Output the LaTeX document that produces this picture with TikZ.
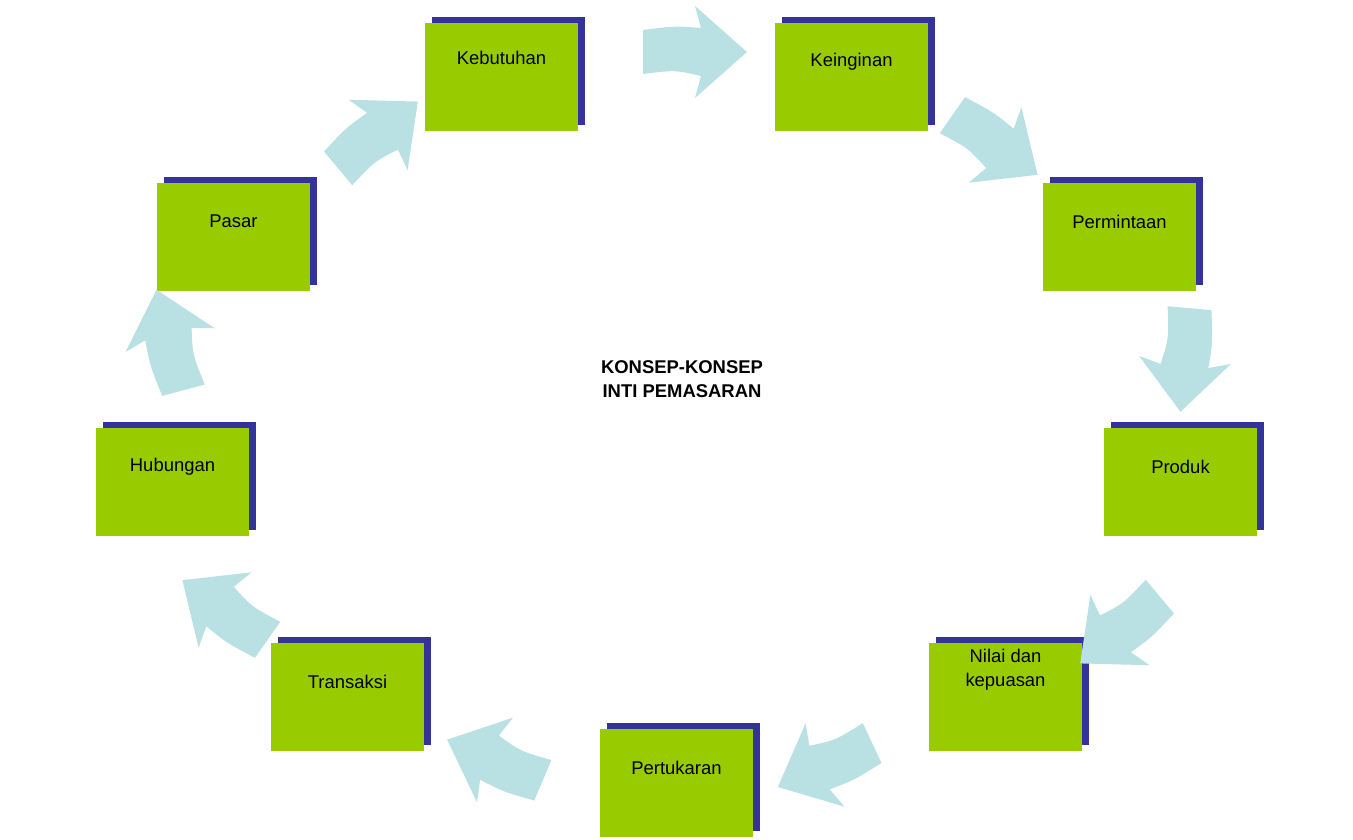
\documentclass[tikz,border=0pt]{standalone}
\usepackage{fontspec}
\setmainfont{Liberation Sans}
\usetikzlibrary{shadows,calc}
\definecolor{gr}{HTML}{99CC00}
\definecolor{nv}{HTML}{333399}
\definecolor{ab}{HTML}{B9E1E3}
\begin{document}
\begin{tikzpicture}[x=0.02cm,y=0.02cm,
 box/.style={fill=gr,minimum width=3.06cm,minimum height=2.16cm,inner sep=0,
   drop shadow={shadow xshift=0.14cm,shadow yshift=0.12cm,fill=nv,opacity=1}},
 lbl/.style={font=\fontsize{10.5}{13.5}\selectfont,align=center},
 ar/.pic={\fill[ab] (-52,-22) .. controls (-20,-18) .. (6,-24) -- (0,-46) -- (52,0) -- (0,46) -- (6,24) .. controls (-20,26) .. (-52,22) -- cycle;}]
\useasboundingbox (0,0) rectangle (1353,839);
\node[box] (keb) at (501.5,762) {};
\node[box] (kei) at (851.5,762) {};
\node[box] (per) at (1119.5,602) {};
\node[box] (pro) at (1180.5,357) {};
\node[box] (nil) at (1005.5,142) {};
\node[box] (tuk) at (676.5,56) {};
\node[box] (tra) at (347.5,142) {};
\node[box] (hub) at (172.5,357) {};
\node[box] (pas) at (233.5,602) {};
\node[lbl] (tkeb) at ($(keb.north)+(0,-35)$) {Kebutuhan};
\node[lbl] (tkei) at ($(kei.north)+(0,-39)$) {Keinginan};
\node[lbl] (tper) at ($(per.north)+(0,-39)$) {Permintaan};
\node[lbl] (tpro) at ($(pro.north)+(0,-39)$) {Produk};
\node[lbl] (tnil) at ($(nil.north)+(0,-27)$) {Nilai dan\\kepuasan};
\node[lbl] (ttuk) at ($(tuk.north)+(0,-39)$) {Pertukaran};
\node[lbl] (ttra) at ($(tra.north)+(0,-39)$) {Transaksi};
\node[lbl] (thub) at ($(hub.north)+(0,-39)$) {Hubungan};
\node[lbl] (tpas) at ($(pas.north)+(0,-39)$) {Pasar};
\node[lbl,font=\bfseries\fontsize{10.5}{13.5}\selectfont] (c) at (682,460) {KONSEP-KONSEP\\INTI PEMASARAN};
\pic[rotate=0] at (695,787) {ar};
\pic[rotate=-35] at (995,694) {ar};
\pic[rotate=-95] at (1185,479) {ar};
\pic[rotate=-140] at (1120,209) {ar};
\pic[rotate=205] at (825,74) {ar};
\pic[rotate=157] at (495,79) {ar};
\pic[rotate=145] at (225,229) {ar};
\pic[rotate=105] at (170,499) {ar};
\pic[rotate=40] at (378,704) {ar};
\end{tikzpicture}
\end{document}
